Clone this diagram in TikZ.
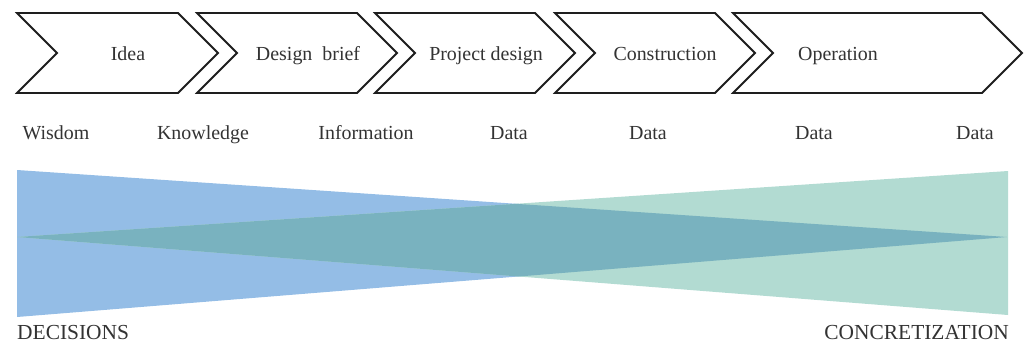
\documentclass[tikz,border=0pt]{standalone}
\usepackage{fontspec}
\setmainfont{Liberation Serif}
\definecolor{bluetri}{HTML}{94BDE6}
\definecolor{greentri}{HTML}{B2DBD2}
\definecolor{overlap}{HTML}{79B2BF}
\definecolor{txt}{HTML}{333333}
\definecolor{edge}{HTML}{1E1E1E}
\tikzset{
  chev/.style={draw=edge, line width=1.8pt, line join=miter, fill=white},
  lbl/.style={text=txt, font=\fontsize{20}{22}\selectfont, inner sep=0pt, anchor=base},
  caps/.style={text=txt, font=\fontsize{21.5}{24}\selectfont, inner sep=0pt},
}
\begin{document}
\begin{tikzpicture}[x=1bp,y=-1bp]
\useasboundingbox (0,0) rectangle (1030,344);
% chevrons
\foreach \l/\r/\cx/\name/\txt in {17/178/128/c1/Idea, 197/357/308/c2/Design\ \ brief, 375/535/486/c3/Project design, 555/715/665/c4/Construction, 733/982/838/c5/Operation}{
  \draw[chev] (\l,13) -- (\r,13) -- (\r+40,53) -- (\r,93) -- (\l,93) -- (\l+40,53) -- cycle;
  \node[lbl] (\name) at (\cx,60) {\txt};
}
% level labels
\node[lbl] (w)  at (56,139)  {Wisdom};
\node[lbl] (k)  at (203,139) {Knowledge};
\node[lbl] (i)  at (366,139) {Information};
\node[lbl] (d1) at (509,139) {Data};
\node[lbl] (d2) at (648,139) {Data};
\node[lbl] (d3) at (814,139) {Data};
\node[lbl] (d4) at (975,139) {Data};
% triangles
\coordinate (bt) at (17,170);
\coordinate (bb) at (17,317);
\coordinate (ba) at (1007,237);
\coordinate (gt) at (1008,171);
\coordinate (gb) at (1008,315);
\coordinate (ga) at (17,237);
\fill[bluetri] (bt) -- (bb) -- (ba) -- cycle;
\fill[greentri] (gt) -- (gb) -- (ga) -- cycle;
\coordinate (xt) at (intersection of bt--ba and ga--gt);
\coordinate (xb) at (intersection of bb--ba and ga--gb);
\fill[overlap] (ga) -- (xt) -- (ba) -- (xb) -- cycle;
\node[caps, anchor=base west] (dec) at (17,339) {DECISIONS};
\node[caps, anchor=base east] (con) at (1009,339) {CONCRETIZATION};
\end{tikzpicture}
\end{document}
